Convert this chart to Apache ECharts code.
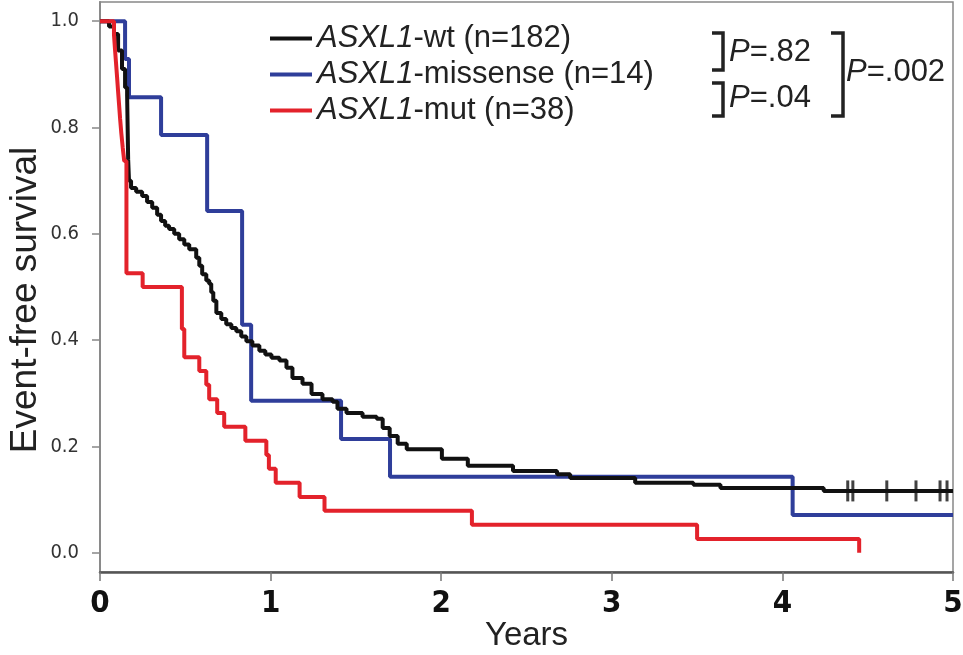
<!DOCTYPE html>
<html>
<head>
<meta charset="utf-8">
<script src="https://cdn.jsdelivr.net/npm/echarts@6/dist/echarts.min.js"></script>
<style>
  html, body { margin: 0; padding: 0; background: #fff; }
  #chart { width: 963px; height: 655px; }
</style>
</head>
<body>
<div id="chart"></div>
<script>
// Kaplan-Meier steps (years, event-free survival)
const wtYears = [0, 0.053, 0.082, 0.106, 0.129, 0.147, 0.159, 0.165, 0.17, 0.182, 0.212, 0.247, 0.276, 0.306, 0.335, 0.358, 0.382, 0.405, 0.435, 0.464, 0.494, 0.523, 0.564, 0.582, 0.599, 0.623, 0.64, 0.652, 0.664, 0.682, 0.711, 0.74, 0.77, 0.799, 0.828, 0.858, 0.893, 0.934, 0.969, 1.005, 1.052, 1.093, 1.128, 1.187, 1.24, 1.304, 1.363, 1.392, 1.445, 1.539, 1.622, 1.657, 1.698, 1.745, 1.798, 2.004, 2.156, 2.421, 2.679, 2.756, 3.137, 3.478, 3.637, 4.242, 5.0];
const wtSurvival = [1, 0.99, 0.976, 0.945, 0.91, 0.875, 0.86, 0.74, 0.70, 0.686, 0.679, 0.671, 0.66, 0.649, 0.636, 0.624, 0.615, 0.609, 0.60, 0.59, 0.58, 0.571, 0.555, 0.54, 0.524, 0.512, 0.506, 0.49, 0.474, 0.451, 0.44, 0.43, 0.423, 0.417, 0.407, 0.398, 0.39, 0.38, 0.373, 0.367, 0.362, 0.348, 0.329, 0.318, 0.299, 0.289, 0.284, 0.271, 0.263, 0.256, 0.252, 0.235, 0.22, 0.205, 0.195, 0.177, 0.164, 0.154, 0.148, 0.141, 0.132, 0.128, 0.122, 0.1165, 0.1165];

const missenseYears = [0, 0.147, 0.17, 0.358, 0.628, 0.833, 0.886, 1.413, 1.70, 4.06, 5.0];
const missenseSurvival = [1, 0.929, 0.857, 0.786, 0.643, 0.429, 0.286, 0.214, 0.143, 0.071, 0.071];

const mutYears = [0, 0.082, 0.088, 0.094, 0.100, 0.106, 0.112, 0.118, 0.125, 0.133, 0.142, 0.155, 0.25, 0.48, 0.494, 0.582, 0.623, 0.64, 0.687, 0.728, 0.852, 0.975, 0.99, 1.03, 1.17, 1.316, 2.18, 3.50, 4.45];
const mutSurvival = [1, 0.974, 0.947, 0.921, 0.895, 0.868, 0.842, 0.816, 0.789, 0.763, 0.737, 0.526, 0.50, 0.421, 0.368, 0.342, 0.316, 0.289, 0.263, 0.237, 0.211, 0.184, 0.158, 0.132, 0.105, 0.079, 0.053, 0.026, 0.0];

// censored observations on the wild-type curve
const censorYears = [4.383, 4.413, 4.612, 4.783, 4.924, 4.965];
const censorSurvival = [0.1165, 0.1165, 0.1165, 0.1165, 0.1165, 0.1165];

const seriesNames = ['ASXL1-wt (n=182)', 'ASXL1-missense (n=14)', 'ASXL1-mut (n=38)'];
const yTickValues = [0, 0.2, 0.4, 0.6, 0.8, 1.0];
const pLabels = ['P=.82', 'P=.04', 'P=.002'];

const zip = (xs, ys) => xs.map((x, i) => [x, ys[i]]);

const chart = echarts.init(document.getElementById('chart'));
const font = "'Liberation Sans', Arial, sans-serif";
const narrow = "'DejaVu Sans Condensed', 'Liberation Sans', sans-serif";

const pText = (label, x, y) => ({
  type: 'text',
  x: x, y: y,
  style: {
    text: label.replace('P', '{i|P}'),
    fontSize: 31, fontFamily: font, fill: '#222',
    verticalAlign: 'middle',
    rich: { i: { fontStyle: 'italic', fontSize: 31, fontFamily: font, fill: '#222' } }
  }
});
const bracket = (x0, x1, y0, y1) => ({
  type: 'polyline',
  shape: { points: [[x0, y0], [x1, y0], [x1, y1], [x0, y1]] },
  style: { stroke: '#222', lineWidth: 3.5, fill: null }
});

const option = {
  animation: false,
  backgroundColor: '#fff',
  grid: {
    left: 100, right: 10, top: 2, bottom: 83,
    outerBoundsMode: 'none',
    show: true, borderColor: '#888', borderWidth: 1.5
  },
  legend: {
    orient: 'vertical',
    left: 265, top: 18,
    itemWidth: 42, itemHeight: 4, itemGap: 5,
    icon: 'rect',
    data: seriesNames,
    formatter: name => name.replace('ASXL1', '{i|ASXL1}'),
    textStyle: {
      fontSize: 31, lineHeight: 31, color: '#222', fontFamily: font,
      rich: { i: { fontStyle: 'italic', fontSize: 31, lineHeight: 31, color: '#222', fontFamily: font } }
    }
  },
  xAxis: {
    type: 'value',
    min: 0, max: 5, interval: 1,
    name: 'Years',
    nameLocation: 'middle',
    nameGap: 47,
    nameMoveOverlap: false,
    nameTextStyle: { fontSize: 33, color: '#222', fontFamily: font },
    axisLine: { show: true, onZero: false, lineStyle: { color: '#555', width: 2.5 } },
    axisTick: { show: true, length: 9, lineStyle: { color: '#777', width: 1.5 } },
    axisLabel: { fontSize: 31, fontWeight: 'bold', color: '#111', fontFamily: narrow, margin: 16 },
    splitLine: { show: false }
  },
  yAxis: {
    type: 'value',
    min: -0.036, max: 1.036,
    name: 'Event-free survival',
    nameLocation: 'middle',
    nameRotate: 90,
    nameGap: 56,
    nameMoveOverlap: false,
    nameTextStyle: { fontSize: 37, color: '#222', fontFamily: font, padding: [0, 26, 0, 0] },
    axisLine: { show: true, onZero: false, lineStyle: { color: '#8a8a8a', width: 2 } },
    axisTick: { show: true, length: 8, customValues: yTickValues, lineStyle: { color: '#888', width: 1.5 } },
    axisLabel: {
      customValues: yTickValues, fontSize: 20, color: '#333', fontFamily: narrow, margin: 21,
      formatter: v => v.toFixed(1)
    },
    splitLine: { show: false }
  },
  series: [
    {
      name: seriesNames[1], type: 'line', step: 'end', symbol: 'none',
      data: zip(missenseYears, missenseSurvival),
      color: '#2f3e9a', lineStyle: { width: 4, color: '#2f3e9a' }
    },
    {
      name: seriesNames[0], type: 'line', step: 'end', symbol: 'none',
      data: zip(wtYears, wtSurvival),
      color: '#111', lineStyle: { width: 4, color: '#111' }
    },
    {
      name: seriesNames[2], type: 'line', step: 'end', symbol: 'none',
      data: zip(mutYears, mutSurvival),
      color: '#e3222b', lineStyle: { width: 4, color: '#e3222b' }
    },
    {
      name: 'censored', type: 'scatter', symbol: 'rect', symbolSize: [3, 21],
      data: zip(censorYears, censorSurvival),
      itemStyle: { color: '#111' }, z: 5
    }
  ],
  graphic: [
    bracket(712, 723, 33, 70),
    bracket(712, 723, 83, 116),
    bracket(831, 843, 33, 116),
    pText(pLabels[0], 729, 52),
    pText(pLabels[1], 729, 98),
    pText(pLabels[2], 846, 72)
  ]
};

chart.setOption(option);
</script>
</body>
</html>
